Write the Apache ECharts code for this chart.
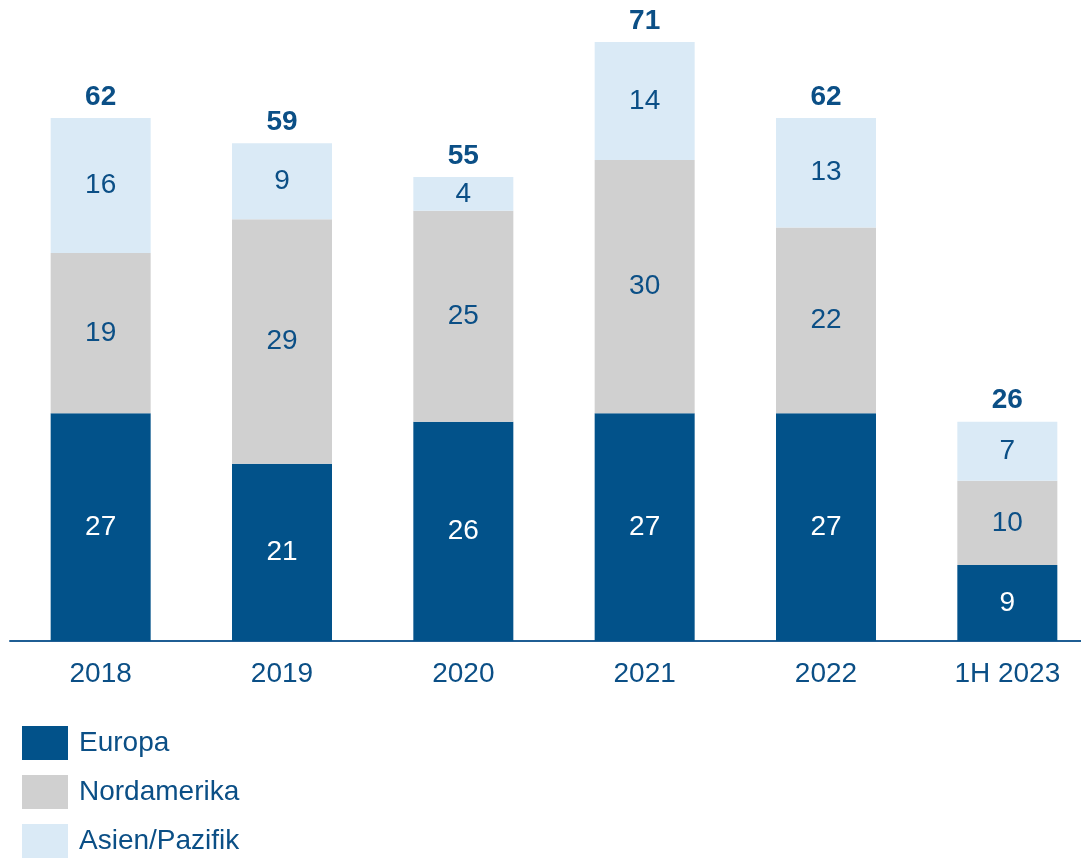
<!DOCTYPE html>
<html>
<head>
<meta charset="utf-8">
<script src="https://cdn.jsdelivr.net/npm/echarts@6/dist/echarts.min.js"></script>
<style>
  html, body { margin: 0; padding: 0; background: #fff; }
  #chart { width: 1081px; height: 859px; }
</style>
</head>
<body>
<div id="chart"></div>
<script>
const categories = ['2018', '2019', '2020', '2021', '2022', '1H 2023'];
const europa = [27, 21, 26, 27, 27, 9];
const nordamerika = [19, 29, 25, 30, 22, 10];
const asienPazifik = [16, 9, 4, 14, 13, 7];
const totals = [62, 59, 55, 71, 62, 26];

const FONT = '"Liberation Sans", Arial, sans-serif';
const BLUE_TEXT = '#0B4F86';

const chart = echarts.init(document.getElementById('chart'), undefined, { renderer: 'canvas' });

const inLabel = (color) => ({
  show: true,
  position: 'inside',
  color,
  fontFamily: FONT,
  fontSize: 28
});

chart.setOption({
  animation: false,
  backgroundColor: '#fff',
  // the category band runs a bit past the right edge in the original
  grid: { left: 10, top: 42, width: 1088, bottom: 218, containLabel: false, outerBoundsMode: 'none' },
  legend: {
    orient: 'vertical',
    left: 22,
    top: 726,
    padding: 0,
    itemWidth: 46,
    itemHeight: 34,
    itemGap: 15,
    icon: 'rect',
    textStyle: { color: BLUE_TEXT, fontFamily: FONT, fontSize: 28, padding: [0, 0, 0, 6] },
    data: ['Europa', 'Nordamerika', 'Asien/Pazifik']
  },
  xAxis: {
    type: 'category',
    data: categories,
    axisLine: { lineStyle: { color: '#1F5E94', width: 2 } },
    axisTick: { show: false },
    axisLabel: { color: BLUE_TEXT, fontFamily: FONT, fontSize: 28, margin: 19 }
  },
  yAxis: {
    type: 'value',
    min: 0,
    max: 71,
    show: false,
    splitLine: { show: false }
  },
  series: [
    {
      name: 'Europa',
      type: 'bar',
      stack: 'total',
      barWidth: 100,
      data: europa,
      itemStyle: { color: '#02528A' },
      label: inLabel('#ffffff')
    },
    {
      name: 'Nordamerika',
      type: 'bar',
      stack: 'total',
      barWidth: 100,
      data: nordamerika,
      itemStyle: { color: '#D0D0D0' },
      label: inLabel(BLUE_TEXT)
    },
    {
      name: 'Asien/Pazifik',
      type: 'bar',
      stack: 'total',
      barWidth: 100,
      data: asienPazifik,
      itemStyle: { color: '#DAEAF6' },
      label: inLabel(BLUE_TEXT)
    },
    {
      name: 'Summe',
      type: 'bar',
      stack: 'total',
      barWidth: 100,
      data: totals.map(() => 0),
      itemStyle: { color: 'transparent' },
      label: {
        show: true,
        position: 'top',
        distance: 7,
        color: BLUE_TEXT,
        fontFamily: FONT,
        fontSize: 28,
        fontWeight: 'bold',
        formatter: (p) => String(totals[p.dataIndex])
      }
    }
  ]
});
</script>
</body>
</html>
